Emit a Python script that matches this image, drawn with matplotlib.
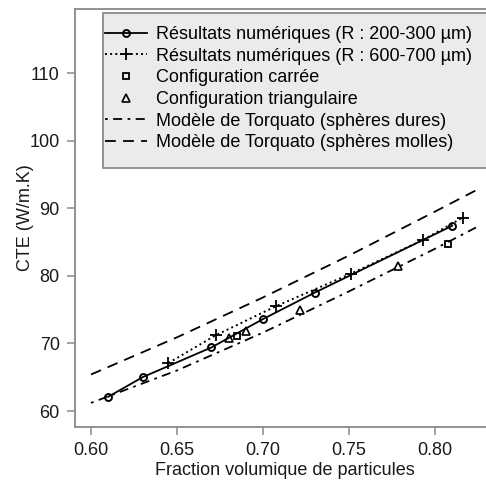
import numpy as np
import matplotlib.pyplot as plt
from matplotlib.patches import Rectangle

plt.rcParams['font.family'] = ['Liberation Sans', 'DejaVu Sans']

# Résultats numériques R 200-300 um
x_r1 = [0.61, 0.63, 0.67, 0.70, 0.73, 0.81]
y_r1 = [62.1, 65.0, 69.4, 73.6, 77.5, 87.4]
# Résultats numériques R 600-700 um
x_r2 = [0.645, 0.6725, 0.7075, 0.751, 0.793, 0.816]
y_r2 = [67.1, 71.2, 75.5, 80.3, 85.3, 88.6]
# configurations
x_carre = [0.685, 0.8075]
y_carre = [71.1, 84.7]
x_tri = [0.680, 0.690, 0.7215, 0.7785]
y_tri = [70.8, 71.8, 75.0, 81.4]
# Torquato
x_torq = [0.60, 0.65, 0.70, 0.75, 0.80, 0.825]
y_dures = [61.2, 66.0, 71.6, 77.7, 84.0, 87.3]
y_molles = [65.4, 70.9, 76.8, 83.0, 89.5, 92.8]

W, H = 486, 488
AX_L, AX_R, AX_T, AX_B = 75, 494, 9, 427
fig = plt.figure(figsize=(W/100, H/100), dpi=100)
ax = fig.add_axes([AX_L/W, (H-AX_B)/H, (AX_R-AX_L)/W, (AX_B-AX_T)/H])

def axpt(px, py):
    return ((px-AX_L)/(AX_R-AX_L), (AX_B-py)/(AX_B-AX_T))

k = 'black'
ax.plot(x_r1, y_r1, '-', color=k, lw=1.3, marker='o', ms=5, mfc='none', mew=1.4,
        label='Résultats numériques (R : 200-300 µm)')
ax.plot(x_r2, y_r2, ':', color=k, lw=1.4, marker='+', ms=9, mew=1.3,
        label='Résultats numériques (R : 600-700 µm)')
ax.plot(x_carre, y_carre, 's', color=k, ms=5, mfc='none', mew=1.3,
        label='Configuration carrée')
ax.plot(x_tri, y_tri, '^', color=k, ms=6, mfc='none', mew=1.2,
        label='Configuration triangulaire')
ax.plot(x_torq, y_dures, color=k, lw=1.3, dashes=(1.5, 3, 5, 3),
        label='Modèle de Torquato (sphères dures)')
ax.plot(x_torq, y_molles, color=k, lw=1.3, dashes=(6, 4),
        label='Modèle de Torquato (sphères molles)')

ax.set_xlim(0.6 - (91-AX_L)/86*0.05, 0.6 + (AX_R-91)/86*0.05)
ax.set_ylim(60 - (AX_B-411)/6.76/1, 60 + (411-AX_T)/6.76)
ax.set_xticks([0.60, 0.65, 0.70, 0.75, 0.80])
ax.set_yticks([60, 70, 80, 90, 100, 110])
ax.set_xticklabels(['0.60', '0.65', '0.70', '0.75', '0.80'])

for s in ax.spines.values():
    s.set_color('#8a8a8a')
    s.set_linewidth(1.3)
ax.tick_params(direction='out', length=6, width=1.1, color='#8a8a8a',
               labelsize=13, labelcolor='#1a1a1a')
ax.tick_params(axis='x', pad=5)
ax.tick_params(axis='y', pad=5)

ax.set_xlabel('Fraction volumique de particules', fontsize=13, color='#1a1a1a', labelpad=2)
ax.set_ylabel('CTE (W/m.K)', fontsize=13, color='#1a1a1a', labelpad=-3)

# legend box
x0, y0 = axpt(103, 168)
x1, y1 = axpt(520, 13)
ax.add_patch(Rectangle((x0, y0), x1-x0, y1-y0, transform=ax.transAxes,
                       facecolor='#ebebeb', edgecolor='#8a8a8a', lw=1.3,
                       clip_on=False, zorder=4))
leg = ax.legend(loc='upper left', bbox_to_anchor=axpt(105, 26),
                fontsize=13, frameon=False, handlelength=2.3,
                handletextpad=0.55, labelspacing=0.26, borderpad=0,
                borderaxespad=0)
leg.set_zorder(5)

fig.savefig('out.png', dpi=100)
